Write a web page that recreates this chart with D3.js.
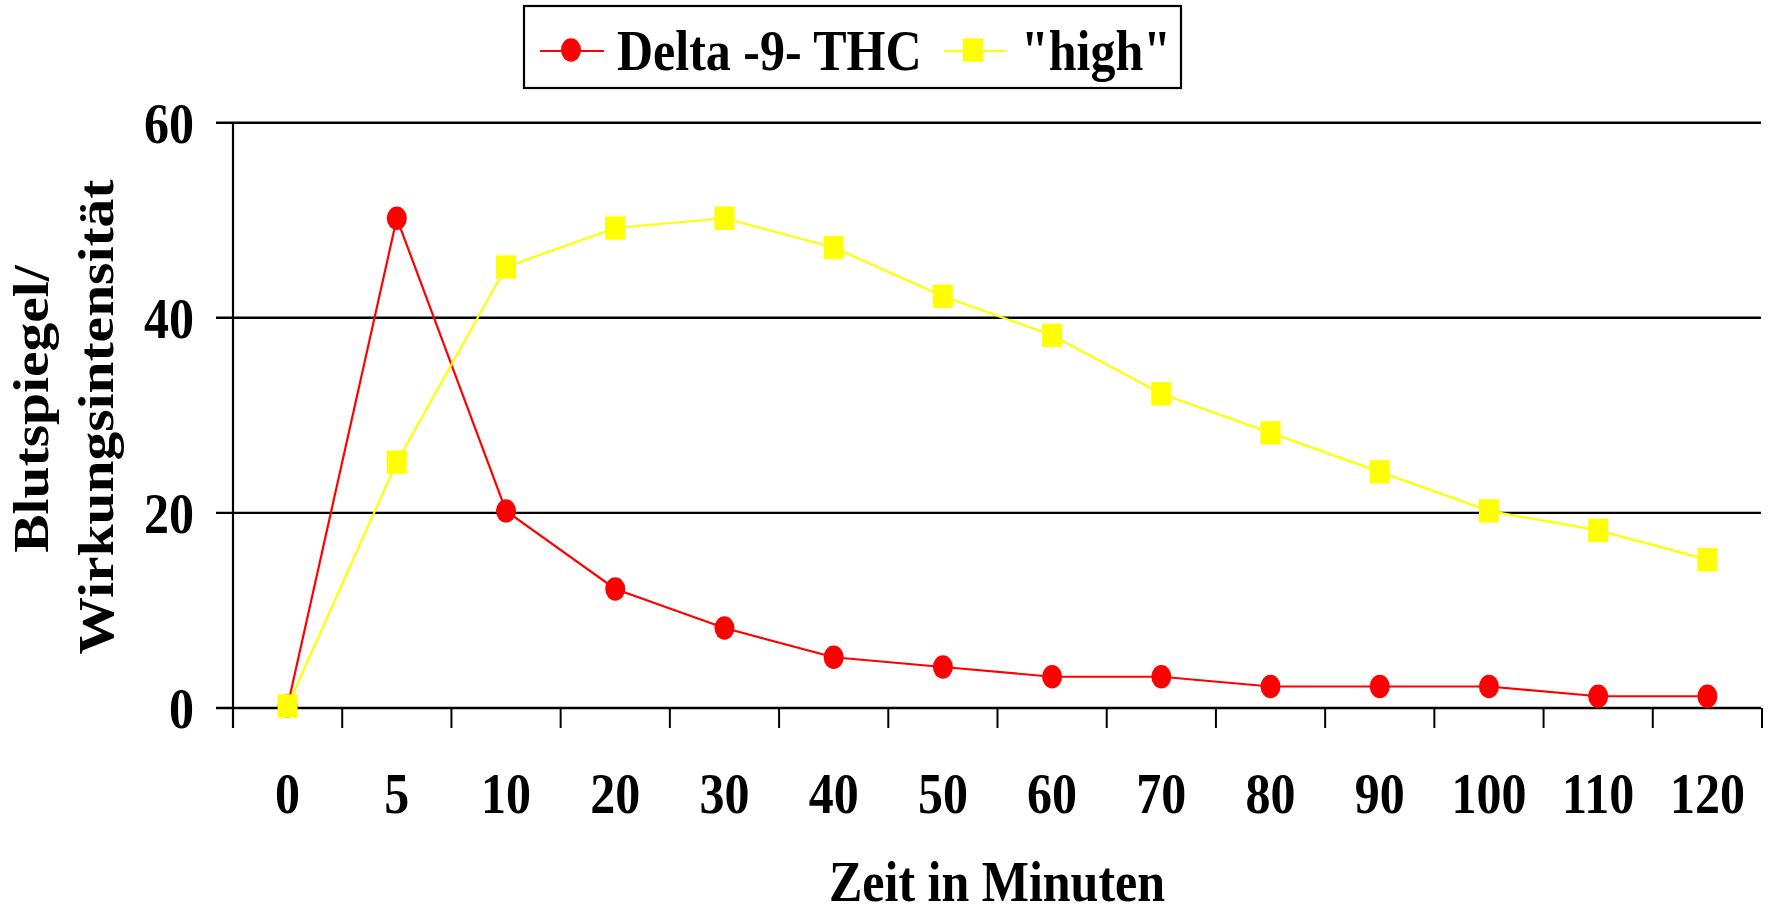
<!DOCTYPE html>
<html>
<head>
<meta charset="utf-8">
<script src="https://cdn.jsdelivr.net/npm/d3@7"></script>
<style>
  html, body { margin: 0; padding: 0; background: #fff; }
  svg { display: block; }
  text { font-family: "Liberation Serif", "Times New Roman", serif; font-weight: bold; fill: #000; }
</style>
</head>
<body>
<svg id="chart" width="1776" height="913"></svg>
<script>
// Time points (minutes) on the category axis
const categories = ["0", "5", "10", "20", "30", "40", "50", "60", "70", "80", "90", "100", "110", "120"];
// Blood level of Delta-9-THC
const thcValues = [0, 50, 20, 12, 8, 5, 4, 3, 3, 2, 2, 2, 1, 1];
// Perceived effect intensity ("high")
const highValues = [0, 25, 45, 49, 50, 47, 42, 38, 32, 28, 24, 20, 18, 15];
// Value axis ticks
const yTicks = [0, 20, 40, 60];

const seriesNames = ["Delta -9- THC", "\"high\""];
const xTitle = "Zeit in Minuten";
const yTitleLines = ["Blutspiegel/", "Wirkungsintensität"];

const svg = d3.select("#chart");
const stretch = 1.15;          // glyphs are drawn slightly taller than wide
const fontSize = 50;

const plot = { left: 233, right: 1762, top: 122.7, bottom: 708 };

const x = d3.scaleBand().domain(categories).range([plot.left, plot.right]).padding(0);
const y = d3.scaleLinear().domain([0, 60]).range([plot.bottom, plot.top]);
const edge = d3.scaleLinear().domain([0, categories.length]).range([plot.left, plot.right]);
const cx = d => x(d) + x.bandwidth() / 2;

// Horizontal grid lines (including the zero line that doubles as x axis)
svg.append("g").selectAll("line").data(yTicks).join("line")
  .attr("x1", plot.left - 17).attr("x2", plot.right - 1)
  .attr("y1", d => y(d)).attr("y2", d => y(d))
  .attr("stroke", "#000").attr("stroke-width", 2.4);

// Value axis line
svg.append("line")
  .attr("x1", plot.left).attr("x2", plot.left)
  .attr("y1", y(60)).attr("y2", plot.bottom + 20)
  .attr("stroke", "#000").attr("stroke-width", 2.2);

// Category separators below the axis
svg.append("g").selectAll("line").data(d3.range(categories.length + 1)).join("line")
  .attr("x1", d => edge(d)).attr("x2", d => edge(d))
  .attr("y1", plot.bottom).attr("y2", plot.bottom + 20)
  .attr("stroke", "#000").attr("stroke-width", 2);

// Value tick labels
svg.append("g").selectAll("text").data(yTicks).join("text")
  .attr("transform", d => `translate(194,${y(d) + 20}) scale(1,${stretch})`)
  .attr("text-anchor", "end")
  .attr("font-size", fontSize)
  .text(d => d);

// Category labels
svg.append("g").selectAll("text").data(categories).join("text")
  .attr("transform", d => `translate(${cx(d)},813) scale(1,${stretch})`)
  .attr("text-anchor", "middle")
  .attr("font-size", fontSize)
  .text(d => d);

// Axis titles
svg.append("text")
  .attr("transform", `translate(997,901) scale(1,${stretch})`)
  .attr("text-anchor", "middle")
  .attr("font-size", fontSize)
  .text(xTitle);

const yTitlePos = [[48, 409], [113, 417]];
svg.append("g").selectAll("text").data(yTitleLines).join("text")
  .attr("transform", (d, i) => `translate(${yTitlePos[i][0]},${yTitlePos[i][1]}) scale(1,${stretch}) rotate(-90)`)
  .attr("text-anchor", "middle")
  .attr("font-size", fontSize)
  .text(d => d);

// Series
const line = d3.line().x(d => cx(d.cat)).y(d => y(d.v) - 2);
const thcData = categories.map((c, i) => ({ cat: c, v: thcValues[i] }));
const highData = categories.map((c, i) => ({ cat: c, v: highValues[i] }));

const mw = 20, mh = 23.4;

svg.append("path").datum(thcData)
  .attr("d", line).attr("fill", "none")
  .attr("stroke", "#ff0000").attr("stroke-width", 2.2);
svg.append("g").selectAll("ellipse").data(thcData).join("ellipse")
  .attr("cx", d => cx(d.cat)).attr("cy", d => y(d.v) - 2)
  .attr("rx", mw / 2).attr("ry", mh / 2)
  .attr("fill", "#ff0000");

svg.append("path").datum(highData)
  .attr("d", line).attr("fill", "none")
  .attr("stroke", "#ffff00").attr("stroke-width", 2.2);
svg.append("g").selectAll("rect").data(highData).join("rect")
  .attr("x", d => cx(d.cat) - mw / 2).attr("y", d => y(d.v) - 2 - mh / 2)
  .attr("width", mw).attr("height", mh)
  .attr("fill", "#ffff00");

// Legend
const legend = svg.append("g");
legend.append("rect")
  .attr("x", 524).attr("y", 6).attr("width", 657).attr("height", 82)
  .attr("fill", "#fff").attr("stroke", "#000").attr("stroke-width", 2.2);

const legendItems = [
  { name: seriesNames[0], color: "#ff0000", shape: "circle", x0: 540, x1: 604, tx: 617 },
  { name: seriesNames[1], color: "#ffff00", shape: "square", x0: 944, x1: 1006, tx: 1021 }
];
legendItems.forEach(item => {
  const ly = 51;
  legend.append("line")
    .attr("x1", item.x0).attr("x2", item.x1).attr("y1", ly).attr("y2", ly)
    .attr("stroke", item.color).attr("stroke-width", 2.2);
  const mx = (item.x0 + item.x1) / 2;
  if (item.shape === "circle") {
    legend.append("ellipse").attr("cx", mx - 1).attr("cy", ly - 1)
      .attr("rx", mw / 2).attr("ry", mh / 2).attr("fill", item.color);
  } else {
    legend.append("rect").attr("x", mx - mw / 2 - 2).attr("y", ly - 1 - mh / 2)
      .attr("width", mw).attr("height", mh).attr("fill", item.color);
  }
  legend.append("text")
    .attr("transform", `translate(${item.tx},70) scale(1,${stretch})`)
    .attr("font-size", fontSize)
    .text(item.name);
});
</script>
</body>
</html>
